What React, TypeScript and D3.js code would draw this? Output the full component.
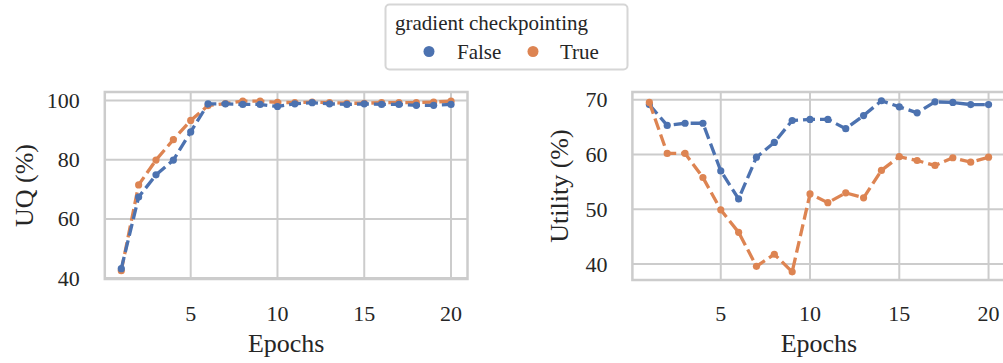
import React from 'react';
import * as d3 from 'd3';

// Data
const epochs = [1, 2, 3, 4, 5, 6, 7, 8, 9, 10, 11, 12, 13, 14, 15, 16, 17, 18, 19, 20];
const uqFalse = [43.2, 67.4, 74.9, 79.9, 89.4, 98.9, 98.9, 98.7, 98.7, 98.0, 98.9, 99.3, 98.9, 98.7, 98.9, 98.7, 98.7, 98.4, 98.4, 98.7];
const uqTrue = [42.5, 71.5, 79.9, 86.8, 93.3, 98.3, 99.0, 99.8, 99.8, 99.4, 99.3, 99.5, 99.3, 99.1, 99.1, 99.3, 99.3, 99.3, 99.5, 99.8];
const utilFalse = [69.1, 65.3, 65.7, 65.7, 57.0, 51.9, 59.5, 62.2, 66.2, 66.4, 66.4, 64.7, 67.1, 69.8, 68.7, 67.6, 69.6, 69.5, 69.1, 69.1];
const utilTrue = [69.5, 60.2, 60.2, 55.8, 49.9, 45.8, 39.6, 41.8, 38.6, 52.8, 51.2, 53.0, 52.1, 57.1, 59.6, 58.9, 58.0, 59.4, 58.6, 59.5];
const xTicks = [5, 10, 15, 20];
const uqTicks = [40, 60, 80, 100];
const utilTicks = [40, 50, 60, 70];
const legendLabels = ['False', 'True'];

const BLUE = '#4c72b0';
const ORANGE = '#dd8452';
const GRID = '#cccccc';
const TEXT = '#262626';
const FONT = '"Liberation Serif", "Times New Roman", serif';

type PanelProps = {
  left: number;
  right: number;
  top: number;
  bottom: number;
  yDomain: [number, number];
  yTicks: number[];
  series: { values: number[]; color: string }[];
  yLabel: string;
  yLabelX: number;
};

const Panel = ({ left, right, top, bottom, yDomain, yTicks, series, yLabel, yLabelX }: PanelProps) => {
  const x = d3.scaleLinear().domain([0.05, 20.95]).range([left, right]);
  const y = d3.scaleLinear().domain(yDomain).range([bottom, top]);
  const line = d3
    .line<number>()
    .x((_, i) => x(epochs[i]))
    .y((d) => y(d));

  return (
    <g>
      {/* grid */}
      {xTicks.map((t) => (
        <line key={'gx' + t} x1={x(t)} x2={x(t)} y1={top} y2={bottom} stroke={GRID} strokeWidth={2} />
      ))}
      {yTicks.map((t) => (
        <line key={'gy' + t} x1={left} x2={right} y1={y(t)} y2={y(t)} stroke={GRID} strokeWidth={2} />
      ))}
      <rect x={left} y={top} width={right - left} height={bottom - top} fill="none" stroke={GRID} strokeWidth={2.5} />

      {/* series */}
      {series.map((s, si) => (
        <g key={si}>
          <path d={line(s.values) ?? ''} fill="none" stroke={s.color} strokeWidth={3.3} strokeDasharray="12,5" />
          {s.values.map((v, i) => (
            <circle key={i} cx={x(epochs[i])} cy={y(v)} r={3.6} fill={s.color} />
          ))}
        </g>
      ))}

      {/* tick labels */}
      {xTicks.map((t) => (
        <text key={'tx' + t} x={x(t)} y={321} textAnchor="middle" fontSize={22} fontFamily={FONT} fill={TEXT}>
          {t}
        </text>
      ))}
      {yTicks.map((t) => (
        <text key={'ty' + t} x={left - 25} y={y(t) + 7.5} textAnchor="end" fontSize={22} fontFamily={FONT} fill={TEXT}>
          {t}
        </text>
      ))}

      {/* axis labels */}
      <text x={(left + right) / 2} y={352} textAnchor="middle" fontSize={26} fontFamily={FONT} fill={TEXT}>
        Epochs
      </text>
      <text
        transform={`translate(${yLabelX}, ${(top + bottom) / 2}) rotate(-90)`}
        textAnchor="middle"
        fontSize={26}
        fontFamily={FONT}
        fill={TEXT}
      >
        {yLabel}
      </text>
    </g>
  );
};

export default function App() {
  const colors = [BLUE, ORANGE];
  return (
    <svg
      width={1003}
      height={363}
      style={{ position: 'absolute', left: 0, top: 0, fontFamily: FONT, background: '#fff' }}
    >
      <rect width={1003} height={363} fill="#fff" />
      <Panel
        left={104.8}
        right={467.5}
        top={92}
        bottom={279}
        yDomain={[39.7, 102.9]}
        yTicks={uqTicks}
        series={[
          { values: uqTrue, color: ORANGE },
          { values: uqFalse, color: BLUE },
        ]}
        yLabel="UQ (%)"
        yLabelX={33}
      />
      <Panel
        left={632.4}
        right={1005.5}
        top={92}
        bottom={280}
        yDomain={[37.1, 71.4]}
        yTicks={utilTicks}
        series={[
          { values: utilFalse, color: BLUE },
          { values: utilTrue, color: ORANGE },
        ]}
        yLabel="Utility (%)"
        yLabelX={568}
      />

      {/* legend */}
      <g>
        <rect x={385.5} y={4.5} width={242} height={65} rx={4} fill="#fff" stroke="#d6d6d6" strokeWidth={2} />
        <text x={395} y={30} fontSize={21} fontFamily={FONT} fill={TEXT}>
          gradient checkpointing
        </text>
        {legendLabels.map((l, i) => (
          <g key={l}>
            <circle cx={429 + i * 104} cy={51.5} r={5.5} fill={colors[i]} />
            <text x={457 + i * 103} y={58.5} fontSize={21} fontFamily={FONT} fill={TEXT}>
              {l}
            </text>
          </g>
        ))}
      </g>
    </svg>
  );
}
